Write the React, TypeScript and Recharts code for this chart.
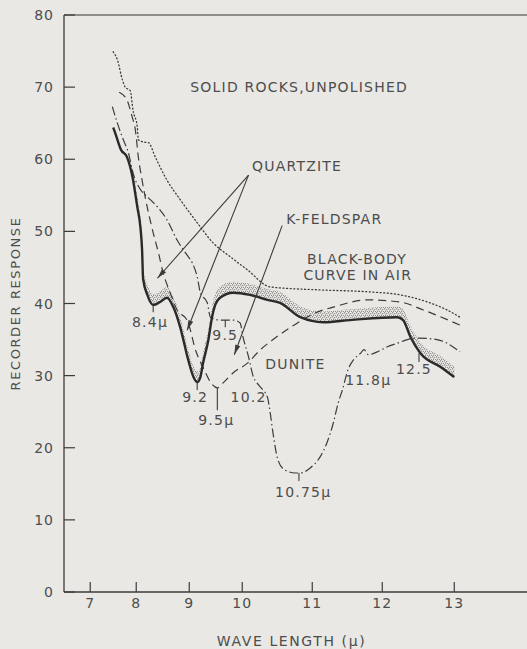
import React from 'react'
import {
  ComposedChart, Line, Area, XAxis, YAxis, ReferenceLine, ReferenceDot, Label,
} from 'recharts'

// prism instrument: wavelength scale is not linear, chart units per micron 7-8, 8-9, ... 12-13
const WL_TICKS = [7, 8, 9, 10, 11, 12, 13]
const WL_STEP = [46, 53, 53, 70, 70, 72]
const WL_RANGE = [6.43, 14.01]
const Y_TICKS = [0, 10, 20, 30, 40, 50, 60, 70, 80]

// black-body curve in air (dotted)
const BB_WL = [7.5, 7.59, 7.7, 7.76, 7.87, 7.93, 8.02, 8.04, 8.13, 8.23, 8.36, 8.58, 8.83, 9.15, 9.45, 9.77, 10.07, 10.4, 11.07, 11.83, 12.25, 12.63, 12.9, 13.08]
const BB_VAL = [74.9, 73.8, 71.0, 70.0, 69.5, 66.8, 64.5, 62.7, 62.4, 62.3, 60.3, 57.1, 54.4, 51.2, 48.4, 46.5, 44.7, 42.3, 41.9, 41.6, 41.2, 40.2, 39.1, 38.1]

// quartzite (solid, stippled)
const QZ_WL = [7.5, 7.54, 7.67, 7.8, 7.92, 8.02, 8.08, 8.11, 8.13, 8.21, 8.32, 8.45, 8.58, 8.7, 8.83, 8.98, 9.08, 9.15, 9.21, 9.26, 9.36, 9.43, 9.49, 9.58, 9.83, 10.11, 10.36, 10.54, 10.83, 11.16, 11.54, 12.21, 12.29, 12.39, 12.53, 12.81, 13.0]
const QZ_VAL = [64.4, 63.7, 61.3, 60.3, 57.5, 53.4, 50.5, 47.5, 43.4, 41.2, 39.8, 40.2, 40.8, 39.5, 36.7, 32.2, 29.8, 29.1, 29.8, 31.7, 34.9, 38.1, 39.8, 40.8, 41.5, 41.2, 40.5, 40.1, 38.1, 37.4, 37.7, 38.1, 37.7, 35.4, 33.1, 31.2, 29.8]

// k-feldspar (dashed)
const KF_WL = [7.63, 7.8, 7.91, 7.98, 8.04, 8.11, 8.23, 8.32, 8.42, 8.51, 8.64, 8.77, 8.96, 9.13, 9.27, 9.4, 9.53, 9.64, 9.83, 10.07, 10.26, 10.44, 10.69, 11.07, 11.3, 11.79, 12.25, 12.57, 13.08]
const KF_VAL = [69.3, 68.2, 65.9, 64.1, 60.3, 57.1, 52.6, 49.8, 47.0, 44.2, 41.5, 39.1, 37.7, 33.3, 31.0, 29.1, 28.3, 29.0, 30.4, 31.7, 33.6, 35.0, 36.7, 38.8, 39.5, 40.5, 40.2, 39.1, 37.0]

// dunite (dash-dot)
const DU_WL = [7.48, 7.59, 7.72, 7.83, 7.93, 8.08, 8.21, 8.4, 8.58, 8.77, 8.96, 9.06, 9.15, 9.21, 9.34, 9.4, 9.58, 9.83, 9.96, 10.01, 10.09, 10.16, 10.21, 10.26, 10.36, 10.4, 10.44, 10.51, 10.61, 10.76, 10.83, 10.97, 11.11, 11.21, 11.3, 11.37, 11.43, 11.51, 11.59, 11.69, 11.74, 11.8, 11.93, 12.07, 12.21, 12.35, 12.49, 12.76, 13.08]
const DU_VAL = [67.3, 65.0, 62.7, 60.9, 58.1, 55.8, 54.8, 53.4, 51.6, 48.8, 46.7, 45.6, 43.7, 41.5, 40.1, 38.1, 37.7, 37.7, 37.3, 35.4, 32.6, 29.8, 29.0, 28.4, 27.0, 24.8, 22.0, 18.3, 16.9, 16.5, 16.5, 17.2, 18.7, 20.7, 23.4, 26.2, 28.0, 30.8, 32.2, 33.1, 33.6, 32.9, 33.3, 34.0, 34.5, 35.0, 35.2, 35.0, 33.3]

const NOTES = [
  { text: 'SOLID ROCKS,UNPOLISHED', wl: 9.02, v: 70.0, anchor: 'start' },
  { text: 'QUARTZITE', wl: 10.14, v: 59.1, anchor: 'start' },
  { text: 'K-FELDSPAR', wl: 10.63, v: 51.7, anchor: 'start' },
  { text: 'BLACK-BODY', wl: 11.64, v: 46.2, anchor: 'middle' },
  { text: 'CURVE IN AIR', wl: 11.65, v: 44.0, anchor: 'middle' },
  { text: 'DUNITE', wl: 10.76, v: 31.6, anchor: 'middle' },
  { text: '8.4\u03bc', wl: 8.26, v: 37.4, anchor: 'middle' },
  { text: '9.2', wl: 9.11, v: 27.0, anchor: 'middle' },
  { text: '9.5\u03bc', wl: 9.51, v: 23.8, anchor: 'middle' },
  { text: '9.5', wl: 9.68, v: 35.6, anchor: 'middle' },
  { text: '10.2', wl: 10.09, v: 27.0, anchor: 'middle' },
  { text: '10.75\u03bc', wl: 10.87, v: 13.9, anchor: 'middle' },
  { text: '11.8\u03bc', wl: 11.8, v: 29.4, anchor: 'middle' },
  { text: '12.5', wl: 12.44, v: 30.9, anchor: 'middle' },
]

const ARROWS = [
  { from: [10.09, 57.8], to: [8.4, 43.5] },
  { from: [10.09, 57.8], to: [8.96, 36.3] },
  { from: [10.57, 50.8], to: [9.85, 32.9] },
]

const MARKS = [
  { wl: 8.32, v1: 39.8, v2: 38.8 },
  { wl: 9.15, v1: 29.1, v2: 28.0 },
  { wl: 9.53, v1: 28.3, v2: 25.2 },
  { wl: 9.68, v1: 37.7, v2: 36.7 },
  { wl: 10.81, v1: 16.5, v2: 15.4 },
  { wl: 12.51, v1: 33.1, v2: 31.9 },
]

const INK = '#3c3c3c'
const TEXT = '#4d4d4d'
const FONT = '"DejaVu Sans", sans-serif'

const TICK_U = WL_TICKS.map((_, i) => WL_STEP.slice(0, i).reduce((a, b) => a + b, 0))

function toU(wl: number) {
  if (wl <= WL_TICKS[0]) return (wl - WL_TICKS[0]) * WL_STEP[0]
  for (let i = 0; i < WL_STEP.length; i++) {
    if (wl <= WL_TICKS[i + 1]) return TICK_U[i] + (wl - WL_TICKS[i]) * WL_STEP[i]
  }
  const n = WL_TICKS.length - 1
  return TICK_U[n] + (wl - WL_TICKS[n]) * WL_STEP[n - 1]
}

const series = (wl: number[], val: number[]) => wl.map((w, i) => ({ u: toU(w), v: val[i] }))

const bb = series(BB_WL, BB_VAL)
const qz = series(QZ_WL, QZ_VAL)
const kf = series(KF_WL, KF_VAL)
const du = series(DU_WL, DU_VAL)
const band = QZ_WL.map((w, i) => ({ u: toU(w), band: [QZ_VAL[i], QZ_VAL[i] + 1.5] }))
  .filter((_, i) => QZ_WL[i] >= 7.9)

function YTick(p: any) {
  const ax = p.x + 10
  return (
    <g>
      <line x1={ax} x2={ax + 11} y1={p.y} y2={p.y} stroke={INK} strokeWidth={1.2} />
      <text x={p.x} y={p.y} dy="0.36em" textAnchor="end" fill={TEXT}
            fontFamily={FONT} fontSize={14} letterSpacing={1}>{p.payload.value}</text>
    </g>
  )
}

function XTick(p: any) {
  const i = TICK_U.indexOf(p.payload.value)
  return (
    <g>
      <line x1={p.x} x2={p.x} y1={p.y} y2={p.y - 10} stroke={INK} strokeWidth={1.2} />
      <text x={p.x} y={p.y + 16} textAnchor="middle" fill={TEXT}
            fontFamily={FONT} fontSize={14} letterSpacing={1}>{WL_TICKS[i]}</text>
    </g>
  )
}

function Arrow(p: any) {
  const { x1, y1, x2, y2 } = p
  const a = Math.atan2(y2 - y1, x2 - x1)
  const L = 10, w = 2.6
  const bx = x2 - L * Math.cos(a), by = y2 - L * Math.sin(a)
  const pts = `${x2},${y2} ${bx + w * Math.sin(a)},${by - w * Math.cos(a)} ${bx - w * Math.sin(a)},${by + w * Math.cos(a)}`
  return (
    <g>
      <line x1={x1} y1={y1} x2={x2} y2={y2} stroke={INK} strokeWidth={1.1} />
      <polygon points={pts} fill={INK} />
    </g>
  )
}

export default function App() {
  return (
    <div style={{ position: 'absolute', left: 0, top: 0, width: 527, height: 649, background: '#e9e8e4' }}>
      <ComposedChart width={527} height={649} margin={{ top: 15, right: 0, bottom: 27, left: 0 }}>
        <defs>
          <pattern id="stipple" width="4" height="4" patternUnits="userSpaceOnUse">
            <circle cx="0.7" cy="0.8" r="0.6" fill="#3a3a3a" />
            <circle cx="2.8" cy="1.6" r="0.55" fill="#4a4a4a" />
            <circle cx="1.6" cy="3.1" r="0.6" fill="#444" />
            <circle cx="3.6" cy="3.6" r="0.5" fill="#555" />
          </pattern>
        </defs>
        <XAxis type="number" dataKey="u" domain={[toU(WL_RANGE[0]), toU(WL_RANGE[1])]} allowDataOverflow
               ticks={TICK_U} tick={<XTick />} tickLine={false} tickSize={0} tickMargin={0} height={30}
               axisLine={{ stroke: INK, strokeWidth: 1.3 }}>
          <Label value={'WAVE LENGTH (\u03bc)'} position="bottom" offset={14} dx={-4}
                 style={{ fill: TEXT, fontFamily: FONT, fontSize: 14, letterSpacing: 1.6 }} />
        </XAxis>
        <YAxis type="number" domain={[0, 80]} ticks={Y_TICKS} tick={<YTick />} tickLine={false}
               tickSize={0} tickMargin={10} width={64} axisLine={{ stroke: INK, strokeWidth: 1.3 }}>
          <Label value="RECORDER RESPONSE" angle={-90} position="insideLeft" offset={15}
                 style={{ textAnchor: 'middle', fill: TEXT, fontFamily: FONT, fontSize: 13, letterSpacing: 1.6 }} />
        </YAxis>
        <ReferenceLine y={80} stroke="#707070" strokeWidth={1.5} />

        <Area data={band} dataKey="band" type="monotone" stroke="none" fill="url(#stipple)"
              fillOpacity={0.85} isAnimationActive={false} />
        <Line data={bb} dataKey="v" type="monotone" stroke={INK} strokeWidth={1.3}
              strokeDasharray="1 2.6" strokeLinecap="round" dot={false} isAnimationActive={false} />
        <Line data={kf} dataKey="v" type="monotone" stroke={INK} strokeWidth={1.2}
              strokeDasharray="8 5" dot={false} isAnimationActive={false} />
        <Line data={du} dataKey="v" type="monotone" stroke={INK} strokeWidth={1.2}
              strokeDasharray="9 3 1.5 3" dot={false} isAnimationActive={false} />
        <Line data={qz} dataKey="v" type="monotone" stroke="#2a2a2a" strokeWidth={2.4}
              dot={false} isAnimationActive={false} />

        {ARROWS.map((a, i) => (
          <ReferenceLine key={'a' + i} ifOverflow="visible"
            segment={[{ x: toU(a.from[0]), y: a.from[1] }, { x: toU(a.to[0]), y: a.to[1] }]}
            shape={Arrow} />
        ))}
        {MARKS.map((m, i) => (
          <ReferenceLine key={'m' + i} ifOverflow="visible" stroke={INK} strokeWidth={1.1}
            segment={[{ x: toU(m.wl), y: m.v1 }, { x: toU(m.wl), y: m.v2 }]} />
        ))}
        {NOTES.map((n, i) => (
          <ReferenceDot key={'n' + i} x={toU(n.wl)} y={n.v} r={0} ifOverflow="visible"
            shape={(p: any) => (
              <text x={p.cx} y={p.cy} dy="0.36em" textAnchor={n.anchor} fill={TEXT}
                    fontFamily={FONT} fontSize={14} letterSpacing={1.2}>{n.text}</text>
            )} />
        ))}
      </ComposedChart>
    </div>
  )
}
